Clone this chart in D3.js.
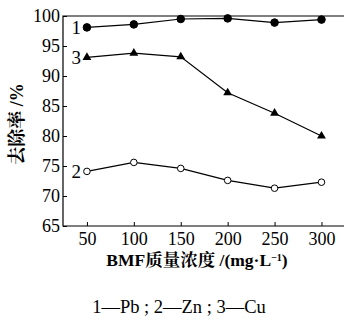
<!DOCTYPE html>
<html>
<head>
<meta charset="utf-8">
<script src="https://cdn.jsdelivr.net/npm/d3@7"></script>
<style>
  html, body { margin: 0; padding: 0; background: #fff; }
  svg { display: block; }
</style>
</head>
<body>
<div id="chart"></div>
<script>
const concentrations = [50, 100, 150, 200, 250, 300];
const pbRemoval = [98.1, 98.6, 99.5, 99.6, 98.9, 99.4];
const znRemoval = [74.1, 75.6, 74.6, 72.6, 71.3, 72.3];
const cuRemoval = [93.1, 93.8, 93.2, 87.2, 83.8, 80.0];
const yTicks = [65, 70, 75, 80, 85, 90, 95, 100];
const seriesLabels = ['1', '2', '3'];
const legendText = '1—Pb ; 2—Zn ; 3—Cu';

const width = 344, height = 320;
const margin = { top: 16, right: 0, bottom: 94, left: 63 };
const serif = "'Liberation Serif', 'Noto Serif CJK SC', 'Noto Sans CJK SC', serif";

const svg = d3.select('#chart').append('svg')
  .attr('width', width)
  .attr('height', height);

const x = d3.scaleLinear().domain([24.5, 324]).range([margin.left, width - margin.right]);
const y = d3.scaleLinear().domain([65, 100]).range([height - margin.bottom, margin.top]);

// frame: left, bottom, top (no right side)
const x0 = margin.left, x1 = width - margin.right;
const yTop = y(100), yBot = y(65);
svg.append('path')
  .attr('d', `M${x1},${yTop}H${x0}V${yBot}H${x1}`)
  .attr('fill', 'none')
  .attr('stroke', '#000')
  .attr('stroke-width', 1.2);

// ticks point inward
const xAxis = d3.axisBottom(x).tickValues(concentrations).tickSizeInner(-4).tickSizeOuter(0).tickPadding(6);
const gx = svg.append('g').attr('transform', `translate(0,${yBot})`).call(xAxis);
gx.select('.domain').remove();
gx.selectAll('text').style('font-family', serif).style('font-size', '18px').attr('fill', '#000');

const yAxis = d3.axisLeft(y).tickValues(yTicks).tickSizeInner(-4).tickSizeOuter(0).tickPadding(3);
const gy = svg.append('g').attr('transform', `translate(${x0},0)`).call(yAxis);
gy.select('.domain').remove();
gy.selectAll('text').style('font-family', serif).style('font-size', '18px').attr('fill', '#000');

const line = d3.line().x((d, i) => x(concentrations[i])).y(d => y(d));

const series = [
  { values: pbRemoval, marker: 'dot', label: seriesLabels[0] },
  { values: znRemoval, marker: 'open', label: seriesLabels[1] },
  { values: cuRemoval, marker: 'tri', label: seriesLabels[2] }
];

series.forEach(s => {
  svg.append('path')
    .datum(s.values)
    .attr('d', line)
    .attr('fill', 'none')
    .attr('stroke', '#000')
    .attr('stroke-width', 1.2);

  const g = svg.append('g');
  if (s.marker === 'tri') {
    g.selectAll('path')
      .data(s.values)
      .join('path')
      .attr('d', d3.symbol(d3.symbolTriangle, 34))
      .attr('transform', (d, i) => `translate(${x(concentrations[i])},${y(d)})`)
      .attr('fill', '#000');
  } else {
    g.selectAll('circle')
      .data(s.values)
      .join('circle')
      .attr('cx', (d, i) => x(concentrations[i]))
      .attr('cy', d => y(d))
      .attr('r', s.marker === 'dot' ? 3.8 : 3.3)
      .attr('fill', s.marker === 'dot' ? '#000' : '#fff')
      .attr('stroke', '#000')
      .attr('stroke-width', 1);
  }

  svg.append('text')
    .attr('x', x(concentrations[0]) - 6)
    .attr('y', y(s.values[0]))
    .attr('dy', '0.36em')
    .attr('text-anchor', 'end')
    .style('font-family', serif)
    .style('font-size', '19px')
    .text(s.label);
});

// axis titles
svg.append('text')
  .attr('transform', `translate(23,${124}) rotate(-90)`)
  .attr('text-anchor', 'middle')
  .style('font-family', serif)
  .style('font-weight', 'bold')
  .style('font-size', '18px')
  .text('去除率 /%');

const xt = svg.append('text')
  .attr('x', 197)
  .attr('y', 266)
  .attr('text-anchor', 'middle')
  .style('font-family', serif)
  .style('font-weight', 'bold')
  .style('font-size', '17.5px');
xt.append('tspan').text('BMF质量浓度 /(mg·L');
xt.append('tspan').style('font-size', '10px').attr('baseline-shift', '55%').text('−1');
xt.append('tspan').text(')');

svg.append('text')
  .attr('x', 179)
  .attr('y', 313)
  .attr('text-anchor', 'middle')
  .style('font-family', serif)
  .style('font-size', '18.5px')
  .text(legendText);
</script>
</body>
</html>
